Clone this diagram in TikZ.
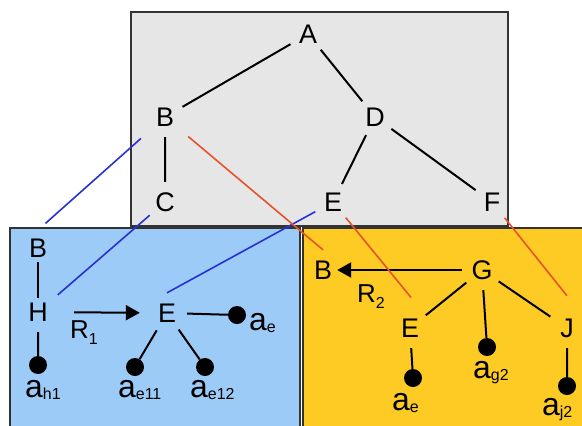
\documentclass[tikz,border=0pt]{standalone}
\usepackage{fontspec}
\setmainfont{Liberation Sans}
\usetikzlibrary{arrows.meta}
\definecolor{boxgray}{HTML}{E6E6E6}
\definecolor{boxblue}{HTML}{9DCBF8}
\definecolor{boxyellow}{HTML}{FDCB24}
\definecolor{linkblue}{HTML}{2632D0}
\definecolor{linkred}{HTML}{E8522A}
\newcommand\lsub[2][2bp]{\raisebox{-#1}{\fontsize{16}{16}\selectfont #2}}
\tikzset{
  letter/.style={circle,inner sep=0pt,minimum size=40bp,font=\fontsize{27}{27}\selectfont},
  leaf/.style={circle,fill=black,inner sep=0pt,minimum size=18bp},
  attr/.style={anchor=base west,inner sep=0pt,font=\fontsize{32}{32}\selectfont},
  rel/.style={anchor=base west,inner sep=0pt,font=\fontsize{26}{26}\selectfont},
  edge/.style={line width=2bp},
  link/.style={line width=1.6bp},
  boxline/.style={draw=black!80,line width=1.3bp}
}
\begin{document}
\begin{tikzpicture}[x=1bp,y=-1bp]
       \useasboundingbox (0,0) rectangle (582,425);
       \filldraw [fill=boxgray,boxline] (131,12) rectangle (508,226);
       \fill [boxblue] (10,228) rectangle (300,426);
       \draw [boxline] (10,427) -- (10,228) -- (300,228) -- (300,427);
       \fill [boxyellow] (303,228) rectangle (583,426);
       \draw [boxline] (303,427) -- (303,228) -- (584,228);
       % whole tree
       \node at (308,34) [letter] (A) {A};
       \node at (165,117) [letter] (B) {B};
       \node at (375,117) [letter] (D) {D};
       \node at (165,202) [letter] (C) {C};
       \node at (333,202) [letter] (E) {E};
       \node at (492,202) [letter] (F) {F};
       \draw [edge]
          (A) -- (B) (A) -- (D) (B) -- (C) (D) -- (E) (D) -- (F);
       % left part
       \node at (38,248) [letter] (b1) {B};
       \node at (38,312) [letter] (h1) {H};
       \node at (167,313) [letter] (e1) {E};
       \node at (237,315) [leaf] (dae1) {};
       \node at (38,365) [leaf] (dh1) {};
       \node at (135,367) [leaf] (de11) {};
       \node at (205,367) [leaf] (de12) {};
       \node at (249,330) [attr] (lae1) {a\lsub{e}};
       \node at (25,397) [attr] (lh1) {a\lsub{h1}};
       \node at (118,397) [attr] (le11) {a\lsub{e11}};
       \node at (190,397) [attr] (le12) {a\lsub{e12}};
       \node at (70,338) [rel] (r1) {R\lsub[6bp]{1}};
       \draw [edge,shorten <=-6bp,shorten >=-6bp] (b1) -- (h1);
       \draw [edge]
          (h1) -- (dh1) (e1) -- (dae1) (e1) -- (de11) (e1) -- (de12);
       \draw [edge,-{Triangle[length=14bp,width=15bp]},shorten <=16bp,shorten >=7bp]
          (h1) -- (e1);
       % right part
       \node at (323,270) [letter] (b2) {B};
       \node at (482,270) [letter] (g) {G};
       \node at (410,328) [letter] (e2) {E};
       \node at (567,328) [letter] (j) {J};
       \node at (413,378) [leaf] (dae2) {};
       \node at (487,347) [leaf] (dg2) {};
       \node at (567,386) [leaf] (dj2) {};
       \node at (392,410) [attr] (lae2) {a\lsub{e}};
       \node at (473,378) [attr] (lg2) {a\lsub{g2}};
       \node at (542,415) [attr] (lj2) {a\lsub{j2}};
       \node at (357,302) [rel] (r2) {R\lsub[6bp]{2}};
       \draw [edge,-{Triangle[length=14bp,width=15bp]},shorten >=-6bp]
          (g) -- (b2);
       \draw [edge]
          (g) -- (e2) (g) -- (dg2) (g) -- (j) (e2) -- (dae2) (j) -- (dj2);
       % links between the parts
       \draw [link,linkblue,shorten <=12bp,shorten >=37bp] (B) -- (b1.west);
       \draw [link,linkblue,shorten >=6bp] (C) -- (h1);
       \draw [link,linkblue] (E) -- (e1.north);
       \draw [link,linkred,shorten <=10bp] (B) -- (b2.north);
       \draw [link,linkred,shorten >=21bp] (E) -- (e2.north east);
       \draw [link,linkred,shorten >=23bp] (F) -- (j.north east);
      \end{tikzpicture}
\end{document}
